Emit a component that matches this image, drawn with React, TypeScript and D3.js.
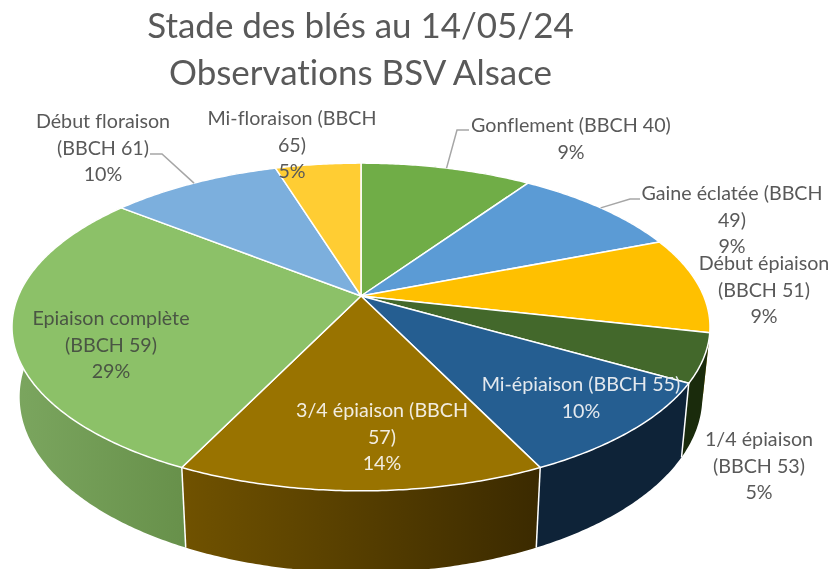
import React from "react";
import * as d3 from "d3";

const categories = [
  "Gonflement (BBCH 40)",
  "Gaine éclatée (BBCH 49)",
  "Début épiaison (BBCH 51)",
  "1/4 épiaison (BBCH 53)",
  "Mi-épiaison (BBCH 55)",
  "3/4 épiaison (BBCH 57)",
  "Epiaison complète (BBCH 59)",
  "Début floraison (BBCH 61)",
  "Mi-floraison (BBCH 65)",
];
const counts = [2, 2, 2, 1, 2, 3, 6, 2, 1];
const percentLabels = ["9%", "9%", "9%", "5%", "10%", "14%", "29%", "10%", "5%"];
const topColors = ["#70AD47", "#5B9BD5", "#FFC000", "#43682B", "#255E91", "#997300", "#8CC168", "#7CAFDD", "#FFCD33"];
const titleLines = ["Stade des blés au 14/05/24", "Observations BSV Alsace"];

// Wrapped label layout, in the same order as the categories
const labelLines = [
  ["Gonflement (BBCH 40)"],
  ["Gaine éclatée (BBCH", "49)"],
  ["Début épiaison", "(BBCH 51)"],
  ["1/4 épiaison", "(BBCH 53)"],
  ["Mi-épiaison (BBCH 55)"],
  ["3/4 épiaison (BBCH", "57)"],
  ["Epiaison complète", "(BBCH 59)"],
  ["Début floraison", "(BBCH 61)"],
  ["Mi-floraison (BBCH", "65)"],
];
const labelPos: [number, number][] = [
  [571, 132], [732, 200], [764, 270], [759, 446], [581, 391], [382, 417], [111, 325], [103, 128], [292, 125],
];
const labelColors = ["#595959", "#595959", "#595959", "#595959", "#E4E9EE", "#F2EDE0", "#4A5544", "#595959", "#595959"];
const leaderBends: ([number, number][] | null)[] = [
  [[457, 130], [469, 130]],
  [[630, 199], [640, 199]],
  null, null, null, null, null,
  [[162, 154], [150, 154]],
  null,
];

// Perspective view of the disc
const CX = 361, CY = 296, A = 342.7, B = 158, K = 0.189;
const project = (angle: number): [number, number] => {
  const u = Math.sin(angle), v = -Math.cos(angle), w = 1 - K * v;
  return [CX + (A * u) / w, CY + (B * v) / w];
};
const drop = (p: [number, number]): [number, number] => [
  CX + (p[0] - CX) * 0.978,
  p[1] + 80 + 0.0714 * (p[1] - 467),
];

const arcs = d3.pie<number>().sort(null)(counts);
const line = d3.line();
const rim = (a0: number, a1: number) => {
  const n = Math.max(2, Math.ceil((a1 - a0) / 0.01));
  return d3.range(n + 1).map((i) => project(a0 + ((a1 - a0) * i) / n));
};

const sideFills = ["#4a7a2c", "#3a6a96", "#a88000", "#1A2B0C", "#0E2338", "url(#brownSide)", "url(#greenSide)", "#5a80a0", "#a88000"];
const textStyle = { fontVariantLigatures: "none" } as React.CSSProperties;

export default function App() {
  return (
    <svg width={832} height={569} viewBox="0 0 832 569"
      style={{ position: "fixed", left: 0, top: 0, display: "block", background: "#fff", filter: "blur(0.45px)" }}>
      <defs>
        <linearGradient id="greenSide" gradientUnits="userSpaceOnUse" x1={14} x2={187} y1={0} y2={0}>
          <stop offset="0" stopColor="#7BA65F" />
          <stop offset="1" stopColor="#67904A" />
        </linearGradient>
        <linearGradient id="brownSide" gradientUnits="userSpaceOnUse" x1={183} x2={539} y1={0} y2={0}>
          <stop offset="0" stopColor="#705200" />
          <stop offset="1" stopColor="#3B2A00" />
        </linearGradient>
      </defs>

      {titleLines.map((t, i) => (
        <text key={t} x={360.5} y={38 + i * 47} textAnchor="middle" fontFamily="Lato" fontSize={34.95} fill="#595959" style={textStyle}>{t}</text>
      ))}

      {arcs.map((a, i) => {
        const r = rim(a.startAngle, a.endAngle);
        return <path key={i} d={line([...r, ...r.map(drop).reverse()]) + "Z"} fill={sideFills[i]} />;
      })}
      {arcs.filter((a) => -Math.cos(a.startAngle) > 0.3).map((a, i) => {
        const p = project(a.startAngle);
        return <path key={i} d={line([p, drop(p)]) || ""} stroke="#fff" strokeWidth={1.5} fill="none" />;
      })}
      {arcs.map((a, i) => (
        <path key={i} d={line([[CX, CY], ...rim(a.startAngle, a.endAngle)]) + "Z"}
          fill={topColors[i]} stroke="#fff" strokeWidth={1.5} strokeLinejoin="round" />
      ))}

      {arcs.map((a, i) => {
        const bend = leaderBends[i];
        if (!bend) return null;
        return <path key={i} d={line([project((a.startAngle + a.endAngle) / 2), ...bend]) || ""}
          stroke="#A6A6A6" strokeWidth={1.5} fill="none" />;
      })}

      {categories.map((c, i) => {
        const [x, y] = labelPos[i];
        return (
          <text key={c} x={x} y={y} textAnchor="middle" fontFamily="Lato" fontSize={19.7} fill={labelColors[i]} style={textStyle}>
            {[...labelLines[i], percentLabels[i]].map((l, j) => (
              <tspan key={j} x={x} y={y + j * 26.6}>{l}</tspan>
            ))}
          </text>
        );
      })}
    </svg>
  );
}
